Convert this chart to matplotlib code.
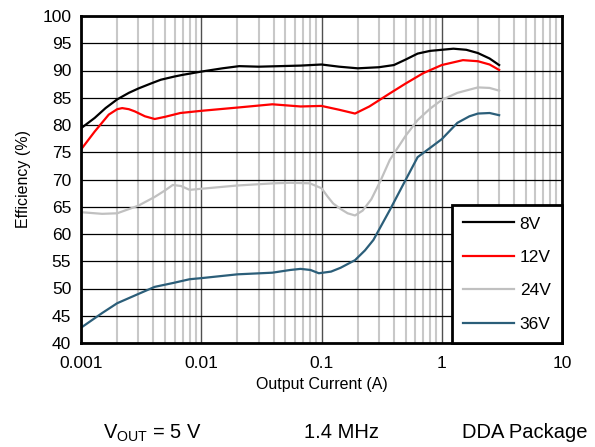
import matplotlib
matplotlib.use("Agg")
import matplotlib.pyplot as plt
from matplotlib.ticker import LogLocator, FixedLocator, NullFormatter

plt.rcParams['font.family'] = ['Liberation Sans', 'DejaVu Sans']

x_8v = [0.001, 0.0013, 0.0016, 0.002, 0.0025, 0.003, 0.0038, 0.0046, 0.006, 0.007, 0.01, 0.015, 0.0207, 0.03, 0.045, 0.067, 0.1, 0.14, 0.2, 0.3, 0.4, 0.5, 0.63, 0.8, 1.0, 1.25, 1.6, 2.0, 2.5, 3.0]
y_8v = [79.4, 81.3, 83.1, 84.7, 85.9, 86.7, 87.6, 88.3, 88.9, 89.2, 89.8, 90.4, 90.8, 90.7, 90.8, 90.9, 91.1, 90.7, 90.4, 90.6, 91.0, 92.0, 93.1, 93.6, 93.8, 94.0, 93.8, 93.2, 92.2, 91.0]

x_12v = [0.001, 0.0013, 0.0017, 0.002, 0.0022, 0.0025, 0.0028, 0.0034, 0.0041, 0.005, 0.0067, 0.01, 0.02, 0.039, 0.067, 0.1, 0.14, 0.19, 0.25, 0.37, 0.5, 0.7, 1.0, 1.5, 2.0, 2.5, 3.0]
y_12v = [75.5, 78.8, 81.9, 82.9, 83.1, 82.9, 82.5, 81.6, 81.1, 81.5, 82.2, 82.6, 83.2, 83.8, 83.4, 83.5, 82.8, 82.1, 83.4, 85.8, 87.6, 89.5, 91.0, 91.9, 91.7, 91.1, 90.1]

x_24v = [0.001, 0.0015, 0.002, 0.003, 0.0041, 0.005, 0.0058, 0.0068, 0.008, 0.01, 0.02, 0.04, 0.055, 0.08, 0.1, 0.113, 0.125, 0.144, 0.165, 0.19, 0.22, 0.26, 0.31, 0.37, 0.5, 0.63, 0.8, 1.0, 1.35, 2.0, 2.5, 3.0]
y_24v = [64.0, 63.7, 63.8, 65.2, 66.8, 68.0, 69.0, 68.8, 68.1, 68.3, 68.9, 69.3, 69.4, 69.3, 68.4, 66.8, 65.6, 64.6, 63.8, 63.4, 64.3, 66.4, 69.8, 73.6, 78.0, 80.9, 83.0, 84.6, 85.9, 86.9, 86.8, 86.3]

x_36v = [0.001, 0.0015, 0.002, 0.003, 0.0041, 0.0058, 0.008, 0.01, 0.02, 0.039, 0.055, 0.067, 0.081, 0.095, 0.12, 0.144, 0.19, 0.23, 0.27, 0.37, 0.5, 0.63, 0.8, 1.0, 1.35, 1.7, 2.0, 2.5, 3.0]
y_36v = [42.8, 45.5, 47.3, 49.0, 50.3, 51.0, 51.7, 51.9, 52.6, 52.9, 53.4, 53.6, 53.4, 52.8, 53.1, 53.8, 55.2, 57.0, 58.9, 64.4, 69.9, 74.1, 75.8, 77.4, 80.4, 81.6, 82.1, 82.2, 81.8]

series = [("8V", x_8v, y_8v, "#000000"),
          ("12V", x_12v, y_12v, "#FF0000"),
          ("24V", x_24v, y_24v, "#C0C0C0"),
          ("36V", x_36v, y_36v, "#2B5E79")]

x_ticks = [0.001, 0.01, 0.1, 1, 10]
x_tick_labels = ["0.001", "0.01", "0.1", "1", "10"]
y_ticks = list(range(40, 101, 5))

fig = plt.figure(figsize=(5.95, 4.47), dpi=100)
ax = fig.add_axes([81/595, 1-343/447, 481/595, 327/447])
ax.set_xscale('log')
ax.set_xlim(0.001, 10)
ax.set_ylim(40, 100)

ax.xaxis.set_major_locator(FixedLocator(x_ticks))
ax.set_xticklabels(x_tick_labels)
ax.xaxis.set_minor_locator(LogLocator(base=10, subs=[2, 3, 4, 5, 6, 7, 8, 9]))
ax.xaxis.set_minor_formatter(NullFormatter())
ax.set_yticks(y_ticks)

ax.grid(which='minor', axis='x', color='#C8C8C8', linewidth=1.5, zorder=0)
ax.grid(which='major', axis='x', color='#505050', linewidth=1.0, zorder=0.5)
ax.grid(which='major', axis='y', color='#000000', linewidth=0.9, zorder=0.6)
ax.set_axisbelow(True)

ax.tick_params(which='both', length=0, labelsize=12.5, pad=7)
ax.tick_params(axis='x', pad=9)

for name, xs, ys, c in series:
    ax.plot(xs, ys, color=c, linewidth=1.6, label=name, zorder=3)

for s in ax.spines.values():
    s.set_linewidth(2)
    s.set_color('black')
    s.set_zorder(5)

leg = ax.legend(loc='lower right', bbox_to_anchor=(0, 0, 1, 1), borderaxespad=0,
                fontsize=12.5, frameon=True, fancybox=False, handlelength=2.9,
                handletextpad=0.35, labelspacing=1.05, borderpad=0.65)
leg.get_frame().set_edgecolor('black')
leg.get_frame().set_linewidth(2)
leg.get_frame().set_alpha(1)
leg.set_zorder(6)

ax.set_xlabel("Output Current (A)", fontsize=11.5, labelpad=5)
ax.set_ylabel("Efficiency (%)", fontsize=11.5, labelpad=8)

fig.text(152/595, 1-433/447, r"V$_{\mathregular{OUT}}$ = 5 V", fontsize=14.5, ha='center', va='center')
fig.text(341/595, 1-433/447, "1.4 MHz", fontsize=14.5, ha='center', va='center')
fig.text(525/595, 1-433/447, "DDA Package", fontsize=14.5, ha='center', va='center')

fig.savefig("out.png", dpi=100)
